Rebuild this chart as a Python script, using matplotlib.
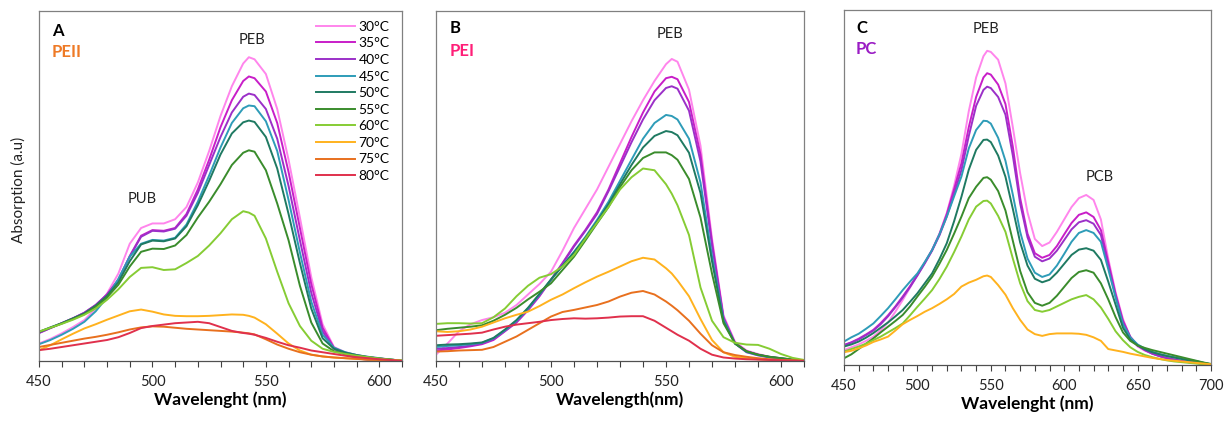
import matplotlib
matplotlib.use("Agg")
import matplotlib.pyplot as plt

plt.rcParams['font.family'] = ['Lato', 'DejaVu Sans']

# ---------------- data ----------------
temps = ["30°C", "35°C", "40°C", "45°C", "50°C", "55°C", "60°C", "70°C", "75°C", "80°C"]
colors = ["#FF85EC", "#C81EC8", "#9B30C8", "#2E9CB8", "#1F7A62", "#3A8C2C",
          "#86CC34", "#FFB21E", "#E8701E", "#E0304C"]

wl_ab = [450, 455, 460, 465, 470, 475, 480, 485, 490, 495, 500, 505, 510, 515, 520, 525,
         530, 535, 540, 545, 550, 555, 560, 565, 570, 575, 580, 585, 590, 595, 600, 605, 610]

A30 = [.050, .063, .079, .097, .117, .150, .193, .250, .335, .380, .393, .393, .405, .440, .510, .600,
       .700, .785, .850, .862, .820, .720, .575, .410, .240, .105, .040, .025, .017, .012, .008, .004, .001]
A35 = [.080, .094, .108, .122, .138, .160, .190, .232, .300, .358, .374, .372, .380, .420, .490, .575,
       .668, .745, .800, .808, .770, .680, .540, .380, .220, .095, .038, .022, .013, .008, .005, .003, .000]
A40 = [.080, .094, .108, .122, .138, .160, .190, .232, .298, .355, .372, .370, .378, .415, .480, .560,
       .640, .710, .755, .760, .720, .635, .500, .345, .195, .085, .035, .018, .008, .003, .002, .001, .000]
A45 = [.048, .060, .075, .092, .112, .142, .182, .235, .298, .335, .346, .344, .352, .390, .455, .530,
       .610, .680, .722, .728, .685, .600, .460, .310, .170, .075, .038, .025, .017, .012, .008, .004, .001]
A50 = [.083, .096, .108, .122, .136, .158, .186, .225, .285, .333, .344, .342, .350, .385, .445, .515,
       .590, .650, .682, .683, .640, .550, .420, .280, .150, .065, .035, .024, .017, .011, .007, .004, .001]
A55 = [.083, .095, .107, .120, .134, .155, .182, .218, .270, .312, .321, .320, .330, .360, .410, .455,
       .505, .560, .595, .598, .545, .450, .345, .215, .110, .050, .028, .020, .015, .011, .007, .004, .001]
A60 = [.084, .095, .106, .118, .132, .150, .175, .205, .240, .266, .268, .260, .262, .280, .300, .330,
       .365, .405, .428, .415, .350, .255, .165, .100, .058, .035, .026, .020, .015, .011, .007, .004, .001]
A70 = [.031, .045, .062, .078, .093, .105, .118, .130, .142, .147, .141, .133, .129, .128, .128, .129,
       .131, .133, .132, .124, .105, .078, .050, .030, .018, .013, .010, .008, .006, .004, .003, .002, .001]
A75 = [.040, .046, .052, .058, .064, .069, .075, .082, .090, .096, .099, .098, .095, .092, .090, .088,
       .086, .084, .081, .076, .062, .047, .035, .025, .018, .013, .010, .008, .006, .004, .003, .002, .000]
A80 = [.031, .035, .040, .045, .050, .055, .060, .068, .080, .094, .100, .104, .108, .110, .112, .108,
       .097, .086, .080, .075, .066, .055, .045, .038, .030, .025, .020, .015, .011, .008, .005, .003, .000]
# readings at the band maximum of panel A (542.5 nm)
wl_a_peak = 542.5
A_peak = [.868, .813, .764, .730, .687, .602, .424, .129, .079, .078]

B30 = [.018, .050, .085, .105, .117, .125, .138, .160, .190, .220, .255, .315, .380, .435, .490, .555,
       .620, .685, .745, .800, .848, .855, .775, .615, .350, .130, .055, .030, .020, .012, .008, .004, .001]
B35 = [.030, .033, .037, .042, .048, .060, .085, .110, .145, .185, .232, .280, .330, .375, .425, .490,
       .565, .640, .710, .770, .808, .805, .740, .590, .340, .125, .052, .028, .018, .011, .007, .003, .001]
B40 = [.035, .037, .040, .044, .050, .062, .086, .112, .147, .187, .232, .278, .327, .372, .420, .485,
       .555, .625, .690, .745, .780, .778, .715, .570, .330, .122, .050, .025, .016, .010, .006, .003, .001]
B45 = [.040, .043, .045, .048, .052, .065, .088, .115, .150, .190, .232, .272, .312, .355, .403, .455,
       .515, .575, .635, .680, .703, .690, .635, .510, .300, .118, .050, .026, .017, .011, .007, .003, .001]
B50 = [.045, .047, .048, .050, .053, .066, .090, .117, .152, .192, .233, .272, .310, .352, .398, .448,
       .505, .560, .610, .643, .657, .645, .595, .480, .285, .113, .050, .027, .018, .012, .008, .004, .001]
B55 = [.088, .092, .095, .098, .102, .115, .132, .152, .176, .198, .222, .260, .298, .345, .393, .440,
       .497, .545, .580, .596, .596, .575, .520, .410, .250, .108, .050, .028, .018, .012, .008, .004, .001]
B60 = [.106, .108, .108, .107, .108, .125, .150, .185, .215, .238, .248, .270, .303, .350, .395, .440,
       .490, .525, .550, .545, .505, .445, .360, .210, .115, .068, .052, .047, .046, .035, .020, .009, .003]
B70 = [.085, .083, .085, .090, .098, .110, .122, .132, .141, .157, .175, .190, .208, .225, .241, .255,
       .270, .285, .295, .290, .265, .230, .185, .120, .060, .025, .012, .008, .005, .003, .002, .001, .000]
B75 = [.027, .028, .030, .031, .032, .040, .055, .070, .089, .108, .127, .140, .146, .153, .160, .170,
       .184, .195, .200, .190, .170, .145, .115, .078, .045, .025, .017, .012, .008, .005, .003, .002, .001]
B80 = [.072, .074, .076, .078, .081, .090, .098, .104, .108, .112, .117, .120, .122, .121, .122, .124,
       .127, .128, .128, .115, .095, .075, .058, .035, .018, .010, .007, .005, .004, .003, .002, .001, .000]
# readings at the band maximum of panel B (552.5 nm)
wl_b_peak = 552.5
B_peak = [.863, .812, .785, .700, .654, .588, .478, .250, .158, .085]

wl_c = [450, 455, 460, 465, 470, 475, 480, 485, 490, 495, 500, 505, 510, 515, 520, 525, 530, 535,
        540, 545, 550, 555, 560, 565, 570, 575, 580, 585, 590, 595, 600, 605, 610, 615, 620, 625,
        630, 635, 640, 645, 650, 655, 660, 665, 670, 675, 680, 685, 690, 695, 700]

C30 = [.042, .050, .058, .068, .080, .098, .120, .150, .183, .218, .254, .288, .324, .370, .428, .505, .595, .715,
       .810, .870, .882, .860, .793, .670, .540, .430, .355, .335, .345, .375, .410, .445, .470, .479, .465, .410,
       .300, .205, .130, .078, .052, .040, .032, .025, .020, .016, .012, .009, .006, .003, .000]
C35 = [.056, .064, .074, .086, .099, .118, .140, .165, .193, .222, .254, .288, .324, .368, .425, .495, .568, .670,
       .755, .810, .818, .790, .735, .615, .470, .370, .315, .302, .310, .335, .368, .400, .423, .430, .417, .380,
       .290, .200, .125, .080, .055, .042, .032, .025, .019, .015, .011, .008, .006, .003, .001]
C40 = [.056, .063, .072, .084, .097, .115, .137, .163, .190, .220, .252, .286, .322, .365, .418, .482, .549, .645,
       .730, .775, .780, .755, .705, .590, .455, .360, .305, .292, .300, .322, .352, .382, .402, .408, .398, .366,
       .280, .195, .120, .078, .055, .042, .032, .025, .019, .015, .011, .008, .006, .003, .001]
C45 = [.066, .078, .088, .102, .117, .138, .160, .185, .211, .235, .258, .290, .324, .368, .418, .475, .531, .610,
       .662, .688, .680, .640, .575, .480, .375, .300, .260, .248, .255, .280, .313, .347, .372, .380, .372, .347,
       .270, .190, .115, .078, .058, .046, .037, .031, .026, .022, .018, .014, .011, .006, .002]
C50 = [.052, .058, .066, .077, .090, .105, .120, .137, .155, .178, .202, .230, .258, .298, .343, .405, .474, .550,
       .606, .634, .628, .590, .530, .440, .345, .280, .243, .233, .240, .260, .285, .310, .325, .329, .322, .296,
       .235, .170, .105, .072, .055, .044, .036, .030, .025, .021, .017, .013, .010, .006, .002]
C55 = [.019, .030, .045, .060, .075, .092, .108, .124, .141, .165, .193, .220, .249, .285, .324, .370, .418, .470,
       .502, .527, .522, .490, .435, .350, .265, .205, .175, .167, .175, .195, .220, .245, .262, .267, .260, .230,
       .185, .135, .092, .068, .055, .048, .042, .037, .032, .027, .022, .017, .012, .007, .003]
C60 = [.038, .045, .052, .060, .070, .080, .092, .104, .117, .140, .164, .187, .211, .242, .277, .318, .362, .410,
       .446, .462, .455, .420, .375, .300, .230, .180, .155, .150, .155, .165, .175, .185, .192, .197, .185, .162,
       .130, .095, .070, .050, .037, .028, .022, .017, .013, .010, .008, .006, .004, .002, .001]
C70 = [.036, .040, .047, .055, .065, .072, .080, .097, .115, .127, .138, .150, .160, .172, .185, .200, .221, .232,
       .240, .250, .248, .225, .198, .160, .127, .100, .087, .082, .087, .089, .089, .089, .088, .085, .078, .068,
       .045, .041, .037, .032, .028, .024, .020, .017, .014, .012, .010, .008, .006, .004, .002]
# readings at the band maximum of panel C (547.5 nm)
wl_c_peak = 547.5
C_peak = [.885, .822, .784, .687, .635, .529, .463, .252]

series_a = [A30, A35, A40, A45, A50, A55, A60, A70, A75, A80]
series_b = [B30, B35, B40, B45, B50, B55, B60, B70, B75, B80]
series_c = [C30, C35, C40, C45, C50, C55, C60, C70]


def with_peak(wl, ys, wp, yp):
    pts = sorted(list(zip(wl, ys)) + [(wp, yp)])
    return [p[0] for p in pts], [p[1] for p in pts]


# ---------------- figure ----------------
W, H = 1231, 421
fig = plt.figure(figsize=(W / 100, H / 100), dpi=100)


def px_axes(l, t, r, b):
    return fig.add_axes([l / W, 1 - b / H, (r - l) / W, (b - t) / H])


axA = px_axes(39, 11, 402, 361)
axB = px_axes(436, 11, 804, 361)
axC = px_axes(844, 10, 1211, 365)


def style(ax, xmax, xlabel):
    ax.set_xlim(450, xmax)
    ax.set_ylim(0, 1)
    ax.set_yticks([])
    ax.set_xticks(range(450, xmax + 1, 50))
    ax.set_xticks(range(450, xmax + 1, 10), minor=True)
    ax.tick_params(axis='x', which='both', direction='out', length=4, width=0.8,
                   color='#404040', labelsize=10.5, pad=6, labelcolor='#222222')
    for s in ['left', 'top', 'right']:
        ax.spines[s].set_color('#808080')
        ax.spines[s].set_linewidth(0.9)
    ax.spines['bottom'].set_color('#505050')
    ax.spines['bottom'].set_linewidth(0.9)
    ax.set_xlabel(xlabel, fontsize=12.5, fontweight='bold', labelpad=2)


lw = 1.4
for ys, yp, lab, c in zip(series_a, A_peak, temps, colors):
    x, y = with_peak(wl_ab, ys, wl_a_peak, yp)
    axA.plot(x, y, color=c, lw=lw, label=lab, solid_joinstyle='round')
for ys, yp, c in zip(series_b, B_peak, colors):
    x, y = with_peak(wl_ab, ys, wl_b_peak, yp)
    axB.plot(x, y, color=c, lw=lw, solid_joinstyle='round')
for ys, yp, c in zip(series_c, C_peak, colors):
    x, y = with_peak(wl_c, ys, wl_c_peak, yp)
    axC.plot(x, y, color=c, lw=lw, solid_joinstyle='round')

style(axA, 610, "Wavelenght (nm)")
style(axB, 610, "Wavelength(nm)")
style(axC, 700, "Wavelenght (nm)")

# legend in panel A
axA.legend(loc='upper left', bbox_to_anchor=(0.752, 0.984), frameon=False, fontsize=10,
           handlelength=2.8, handletextpad=0.25, labelspacing=0.33, borderpad=0.3,
           borderaxespad=0)

# panel labels
axA.text(0.036, 0.965, "A", transform=axA.transAxes, fontsize=12, fontweight='bold', va='top')
axA.text(0.036, 0.905, "PEII", transform=axA.transAxes, fontsize=12, fontweight='bold',
         va='top', color='#EE7A26')
axB.text(0.038, 0.975, "B", transform=axB.transAxes, fontsize=12, fontweight='bold', va='top')
axB.text(0.038, 0.91, "PEI", transform=axB.transAxes, fontsize=12, fontweight='bold',
         va='top', color='#FF1F78')
axC.text(0.033, 0.972, "C", transform=axC.transAxes, fontsize=12, fontweight='bold', va='top')
axC.text(0.033, 0.912, "PC", transform=axC.transAxes, fontsize=12, fontweight='bold',
         va='top', color='#9A1CC4')

# band annotations
axA.text(543.9, 0.917, "PEB", ha='center', va='center', fontsize=10.5, color='#222222')
axA.text(495.4, 0.463, "PUB", ha='center', va='center', fontsize=10.5, color='#222222')
axB.text(551.7, 0.934, "PEB", ha='center', va='center', fontsize=10.5, color='#222222')
axC.text(546.7, 0.946, "PEB", ha='center', va='center', fontsize=10.5, color='#222222')
axC.text(624.4, 0.530, "PCB", ha='center', va='center', fontsize=10.5, color='#222222')

fig.text(18 / W, 1 - 190 / H, "Absorption (a.u)", rotation=90, ha='center', va='center',
         fontsize=11, color='#222222')

fig.savefig("out.png", dpi=100)
